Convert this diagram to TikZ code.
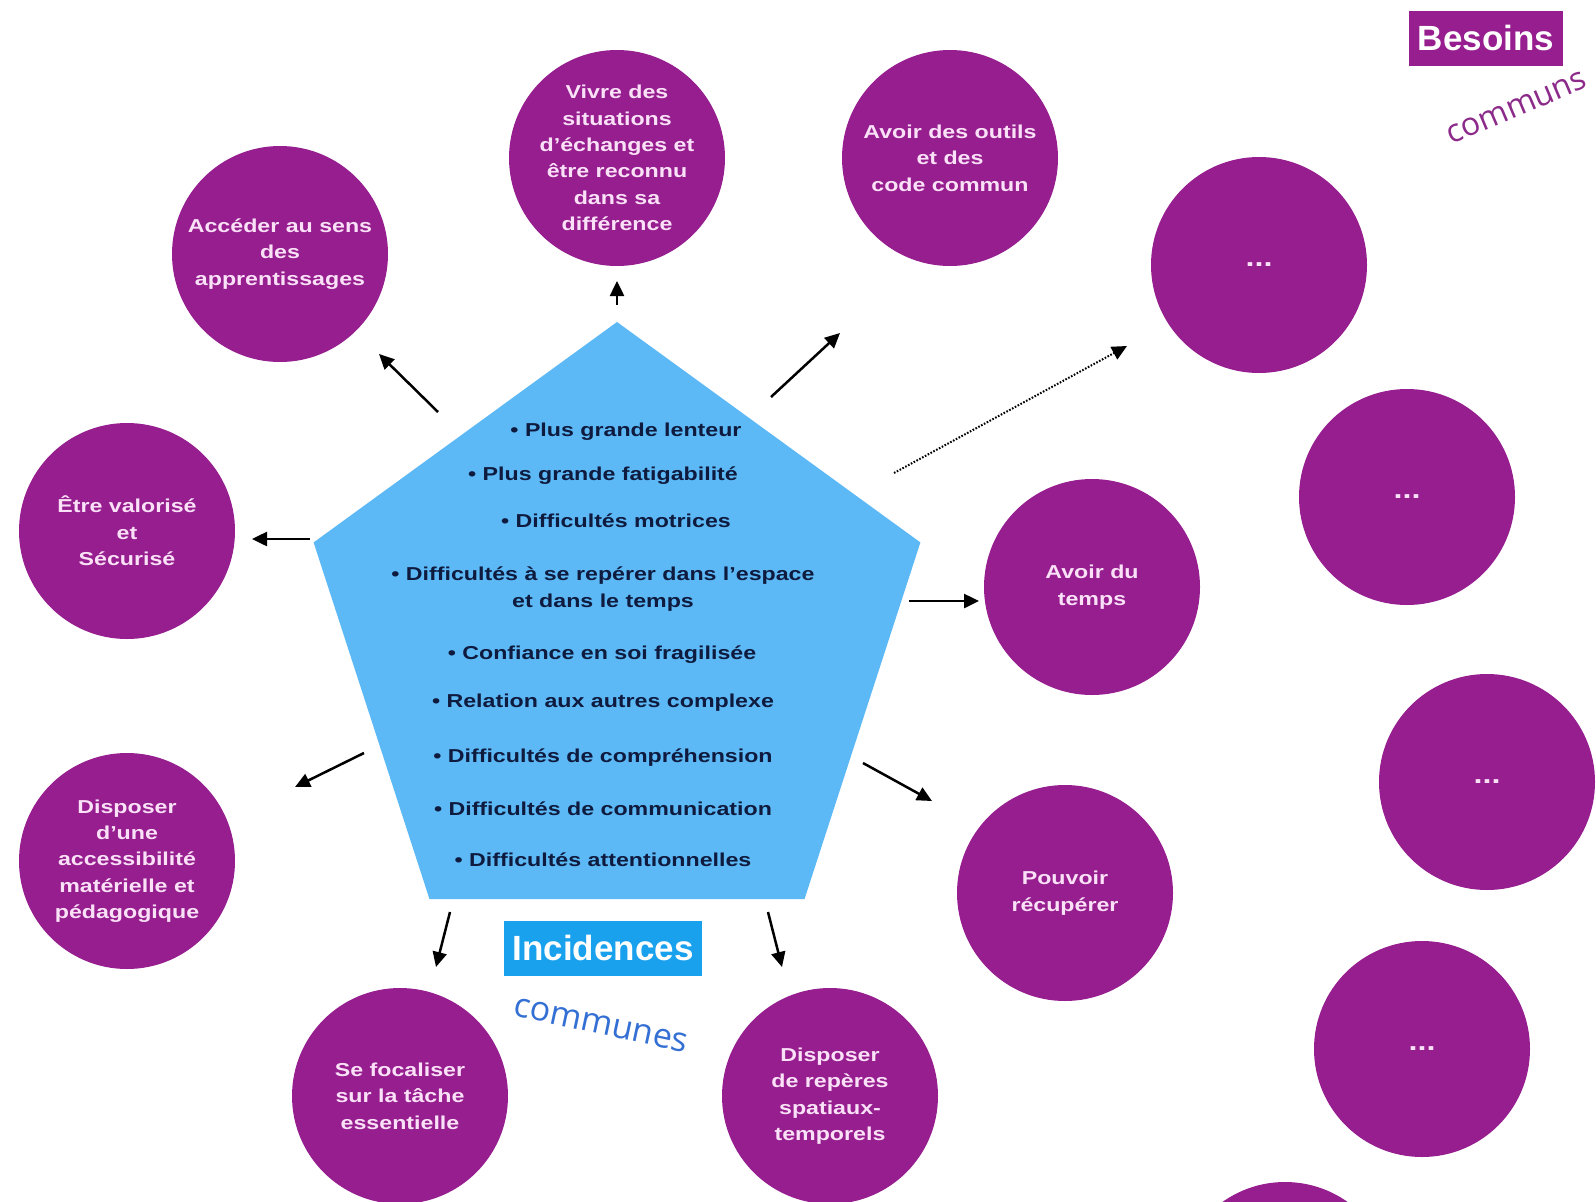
\documentclass[tikz,border=0pt]{standalone}
\usepackage{fontspec}
\setmainfont{Liberation Sans}
\newfontfamily\etire{Liberation Sans}[FakeStretch=1.24, Ligatures=TeX]
\newfontfamily\manuscrit{Open Sans}
\usetikzlibrary{positioning}
\usetikzlibrary{arrows.meta}
\usetikzlibrary{shapes.geometric}
\definecolor{pourpre}{RGB}{150,30,143}
\definecolor{ciel}{RGB}{92,185,246}
\definecolor{azur}{RGB}{26,161,238}
\definecolor{encre}{RGB}{15,27,62}
\definecolor{rose}{RGB}{250,225,247}
\definecolor{motbleu}{RGB}{52,112,212}
\definecolor{motpourpre}{RGB}{140,42,138}
\tikzstyle{every besoin} = [minimum size=216pt, inner sep=0pt]
\tikzstyle{besoin} = [circle, fill=pourpre, text=rose, align=center, font=\fontsize{18.7}{26.4}\selectfont\etire\bfseries, every besoin]
\tikzstyle{points} = [font=\fontsize{26}{26}\selectfont\etire\bfseries]
\tikzstyle{incidence} = [text=encre, align=center, font=\fontsize{18.7}{27}\selectfont\etire\bfseries]
\tikzstyle{fleche} = [-{Triangle[length=15pt,width=14pt]}, line width=2.5pt, draw]
\tikzstyle{titre} = [text=white, minimum height=55pt, inner xsep=9pt, font=\fontsize{35}{40}\selectfont\bfseries]
\tikzstyle{mot} = [font=\manuscrit, inner sep=0pt]

\begin{document}
\begin{tikzpicture}[x=1pt, y=-1pt, node distance=20pt]
                    \path[use as bounding box, clip] (0,0) rectangle (1596,1202);
                    \fill[white] (0,0) rectangle (1596,1202);

                    \node[regular polygon, regular polygon sides=5, minimum size=638pt, inner sep=0pt, fill=ciel] (pentagone) at (617,641) {};
                    \node[incidence] (lenteur) at (626,432) {• Plus grande lenteur};
                    \node[incidence] (fatigue) at (603,476) {• Plus grande fatigabilité};
                    \node[incidence] (motrices) at (616,521) {• Difficultés motrices};
                    \node[incidence] (espace) at (603,589) {• Difficultés à se repérer dans l'espace\\et dans le temps};
                    \node[incidence] (confiance) at (602,655) {• Confiance en soi fragilisée};
                    \node[incidence] (relation) at (603,703) {• Relation aux autres complexe};
                    \node[incidence] (comprehension) at (603,758) {• Difficultés de compréhension};
                    \node[incidence] (communication) at (603,809) {• Difficultés de communication};
                    \node[incidence] (attention) at (603,860) {• Difficultés attentionnelles};

                    \node[besoin] (acceder) at (280,254) {Accéder au sens\\des\\apprentissages};
                    \node[besoin] (vivre) at (617,158) {Vivre des\\situations\\d'échanges et\\être reconnu\\dans sa\\différence};
                    \node[besoin] (outils) at (950,158) {Avoir des outils\\et des\\code commun};
                    \node[besoin] (valorise) at (127,531) {Être valorisé\\et\\Sécurisé};
                    \node[besoin] (temps) at (1092,587) {Avoir du\\temps};
                    \node[besoin] (accessible) at (127,861) {Disposer\\d'une\\accessibilité\\matérielle et\\pédagogique};
                    \node[besoin] (recuperer) at (1065,893) {Pouvoir\\récupérer};
                    \node[besoin] (focaliser) at (400,1096) {Se focaliser\\sur la tâche\\essentielle};
                    \node[besoin] (reperes) at (830,1096) {Disposer\\de repères\\spatiaux-\\temporels};
                    \node[besoin, points] (autre1) at (1259,265) {...};
                    \node[besoin, points] (autre2) at (1407,497) {...};
                    \node[besoin, points] (autre3) at (1487,782) {...};
                    \node[besoin, points] (autre4) at (1422,1049) {...};
                    \node[besoin] (autre5) at (1285,1290) {};

                    \node[titre, fill=pourpre] (besoins) at (1486,38) {Besoins};
                    \node[mot, text=motpourpre, font=\fontsize{32}{34}\selectfont\manuscrit, rotate=23] (communs) at (1517,108) {communs};
                    \node[titre, fill=azur] (incidences) at (603,948) {Incidences};
                    \node[mot, text=motbleu, font=\fontsize{34}{36}\selectfont\manuscrit, rotate=-12, below=40pt of incidences] (communes) {communes};

                    \coordinate (d1) at (438,412);  \coordinate (b1) at (379,354);
                    \coordinate (d2) at (617,305);  \coordinate (b2) at (617,281);
                    \coordinate (d3) at (771,397);  \coordinate (b3) at (840,333);
                    \coordinate (d4) at (894,473);  \coordinate (b4) at (1127,346);
                    \coordinate (d5) at (310,539);  \coordinate (b5) at (252,539);
                    \coordinate (d6) at (909,601);  \coordinate (b6) at (979,601);
                    \coordinate (d7) at (364,753);  \coordinate (b7) at (295,787);
                    \coordinate (d8) at (863,763);  \coordinate (b8) at (932,801);
                    \coordinate (d9) at (450,912);  \coordinate (b9) at (436,967);
                    \coordinate (d10) at (768,912); \coordinate (b10) at (782,967);
                    \draw[fleche] (d1) -- (b1);
                    \draw[fleche] (d2) -- (b2);
                    \draw[fleche] (d3) -- (b3);
                    \draw[fleche, dash pattern=on 1.6pt off 1.6pt, line width=2pt] (d4) -- (b4);
                    \draw[fleche] (d5) -- (b5);
                    \draw[fleche] (d6) -- (b6);
                    \draw[fleche] (d7) -- (b7);
                    \draw[fleche] (d8) -- (b8);
                    \draw[fleche] (d9) -- (b9);
                    \draw[fleche] (d10) -- (b10);
                \end{tikzpicture}
\end{document}
